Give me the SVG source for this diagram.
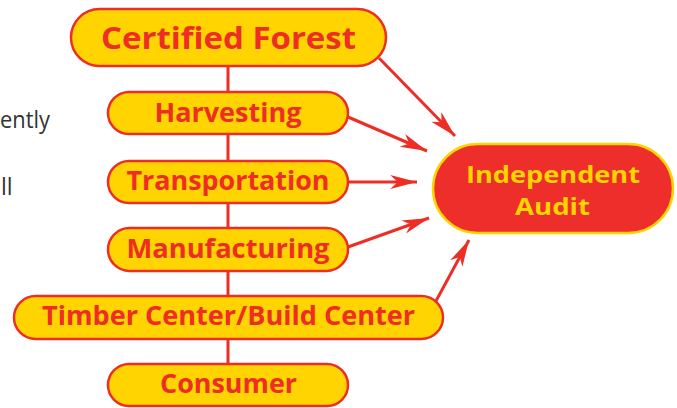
<svg xmlns="http://www.w3.org/2000/svg" width="677" height="408" viewBox="0 0 677 408">
<style>
.node rect{fill:#FFD400;stroke:#EE2E24;stroke-width:2.5}
.node text{fill:#EE2E24;font-family:"Open Sans","Liberation Sans",Arial,sans-serif;font-weight:bold;text-anchor:middle}
.audit rect{fill:#EE2E2A;stroke:#FFD400;stroke-width:2.5}
.audit text{fill:#FFD400;font-family:"Open Sans","Liberation Sans",Arial,sans-serif;font-weight:bold;text-anchor:middle;font-size:24px}
.conn line{stroke:#EE2E24;stroke-width:3}
.side{fill:#333;font-family:"Open Sans","Liberation Sans",Arial,sans-serif;font-size:23px}
</style>
<defs>
<marker id="ah" markerUnits="userSpaceOnUse" markerWidth="30" markerHeight="20" viewBox="-26 -8 28 16" refX="0" refY="0" orient="auto">
<path d="M0,0 L-25,-6.5 L-18,0 L-25,6.5 Z" fill="#EE2E24"/>
</marker>
</defs>
<text class="side" x="0" y="128" textLength="50" lengthAdjust="spacingAndGlyphs">ently</text>
<text class="side" x="1" y="195">ll</text>
<g id="connectors" class="conn">
<line x1="228" y1="66" x2="228" y2="364"/>
<line x1="379" y1="58" x2="455" y2="136" marker-end="url(#ah)"/>
<line x1="348" y1="117" x2="427" y2="151" marker-end="url(#ah)"/>
<line x1="348" y1="182" x2="417" y2="182" marker-end="url(#ah)"/>
<line x1="348" y1="247" x2="429" y2="218" marker-end="url(#ah)"/>
<line x1="436" y1="301" x2="469" y2="240" marker-end="url(#ah)"/>
</g>
<g id="certified-forest" class="node">
<rect x="71" y="9" width="315" height="57" rx="28.5"/>
<text x="228.5" y="49" font-size="31" textLength="255" lengthAdjust="spacingAndGlyphs">Certified Forest</text>
</g>
<g id="harvesting" class="node">
<rect x="108" y="92" width="240" height="42" rx="21"/>
<text x="228" y="122" font-size="27" textLength="147" lengthAdjust="spacingAndGlyphs">Harvesting</text>
</g>
<g id="transportation" class="node">
<rect x="108" y="161" width="240" height="42" rx="21"/>
<text x="228" y="190" font-size="27" textLength="203" lengthAdjust="spacingAndGlyphs">Transportation</text>
</g>
<g id="manufacturing" class="node">
<rect x="108" y="228" width="240" height="43" rx="21.5"/>
<text x="228" y="258" font-size="27" textLength="203" lengthAdjust="spacingAndGlyphs">Manufacturing</text>
</g>
<g id="timber-center" class="node">
<rect x="14" y="296" width="429" height="43" rx="21.5"/>
<text x="228.5" y="325" font-size="27" textLength="373" lengthAdjust="spacingAndGlyphs">Timber Center/Build Center</text>
</g>
<g id="consumer" class="node">
<rect x="108" y="364" width="240" height="42" rx="21"/>
<text x="228.5" y="393" font-size="27" textLength="137" lengthAdjust="spacingAndGlyphs">Consumer</text>
</g>
<g id="independent-audit" class="audit">
<rect x="433" y="144" width="240" height="89" rx="44.5"/>
<text x="553" y="183" textLength="174" lengthAdjust="spacingAndGlyphs">Independent</text>
<text x="552.5" y="215" textLength="75" lengthAdjust="spacingAndGlyphs">Audit</text>
</g>
</svg>
